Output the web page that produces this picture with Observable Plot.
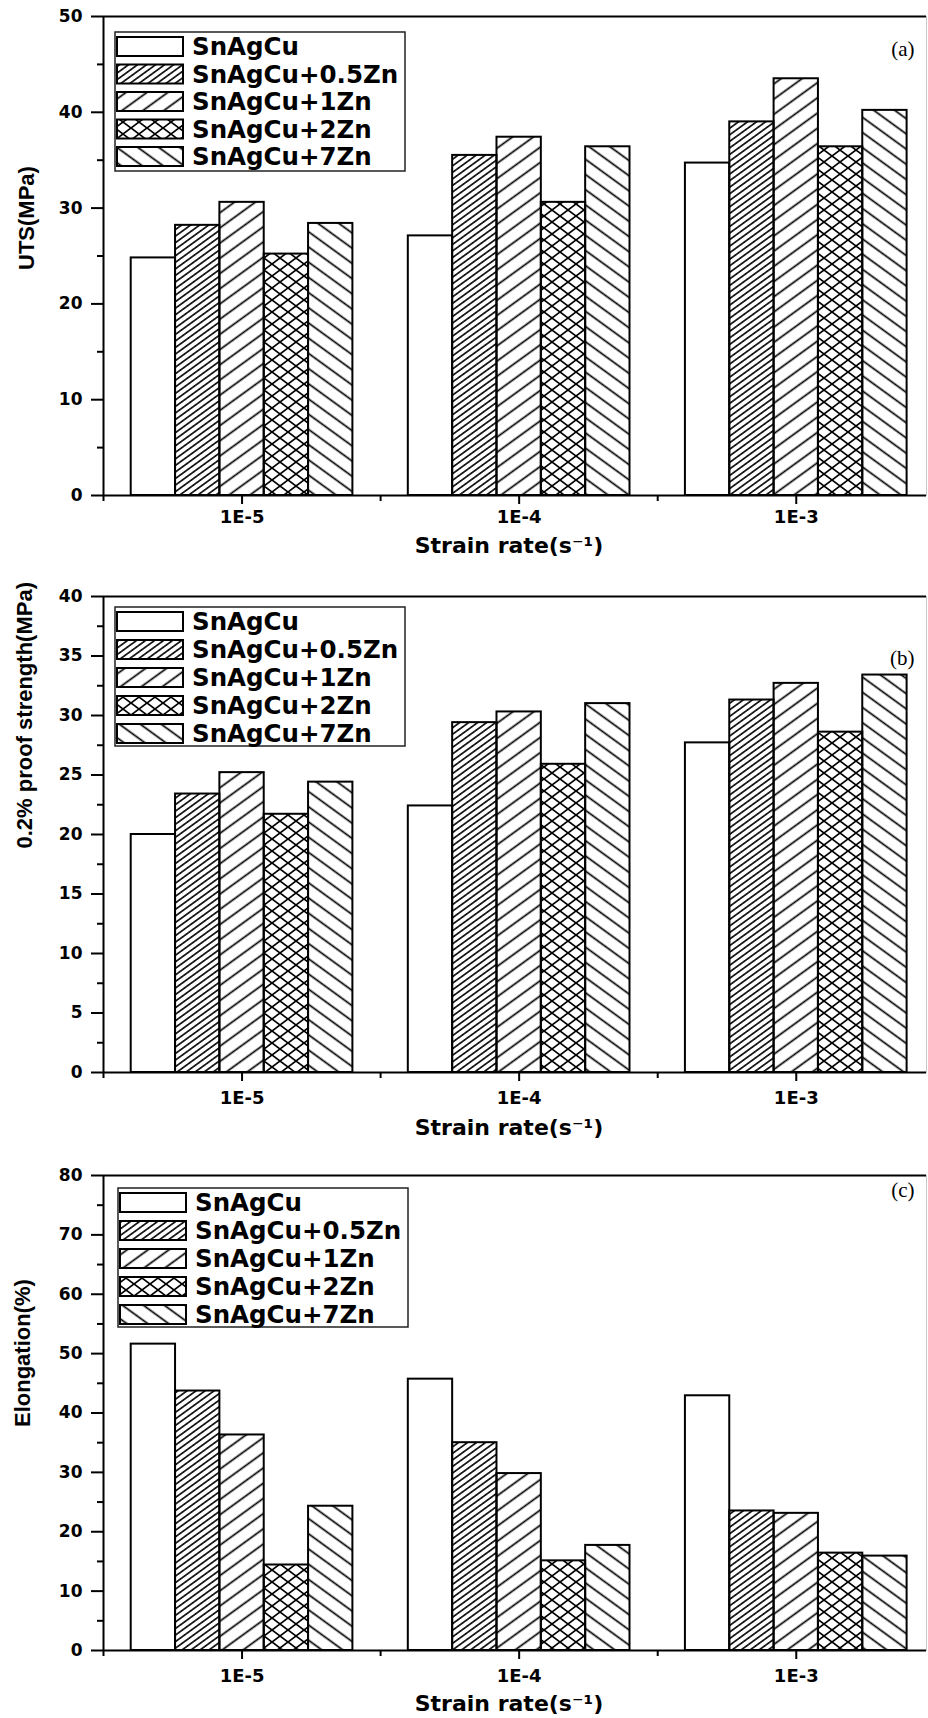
<!DOCTYPE html>
<html>
<head>
<meta charset="utf-8">
<script src="https://cdn.jsdelivr.net/npm/d3@7"></script>
<script src="https://cdn.jsdelivr.net/npm/@observablehq/plot@0.6"></script>
<style>
  html, body { margin: 0; padding: 0; background: #fff; }
  #chart svg { display: block; }
</style>
</head>
<body>
<!-- hatch fills shared by all three panels -->
<svg width="0" height="0" style="position:absolute">
  <defs>
    <pattern id="hatch-dense" patternUnits="userSpaceOnUse" width="10" height="5.3" patternTransform="rotate(-36)">
      <line x1="0" y1="2.65" x2="10" y2="2.65" stroke="#000" stroke-width="1.6"/>
    </pattern>
    <pattern id="hatch-fwd" patternUnits="userSpaceOnUse" width="10" height="12.3" patternTransform="rotate(-36)">
      <line x1="0" y1="6.15" x2="10" y2="6.15" stroke="#000" stroke-width="1.7"/>
    </pattern>
    <pattern id="hatch-back" patternUnits="userSpaceOnUse" width="10" height="12.3" patternTransform="rotate(36)">
      <line x1="0" y1="6.15" x2="10" y2="6.15" stroke="#000" stroke-width="1.7"/>
    </pattern>
    <pattern id="hatch-cross" patternUnits="userSpaceOnUse" width="16" height="12">
      <path d="M-2,13.5L18,-1.5M-2,-1.5L18,13.5" stroke="#000" stroke-width="1.7" fill="none"/>
    </pattern>
  </defs>
</svg>
<div id="chart"></div>
<script>
// Strain rates on the x axis and the five solder alloys
const rates = ["1E-5", "1E-4", "1E-3"];
const alloys = ["SnAgCu", "SnAgCu+0.5Zn", "SnAgCu+1Zn", "SnAgCu+2Zn", "SnAgCu+7Zn"];

// One row per alloy, one value per strain rate (1E-5, 1E-4, 1E-3)
const uts = [
  [24.8, 27.1, 34.7],
  [28.2, 35.5, 39.0],
  [30.6, 37.4, 43.5],
  [25.2, 30.6, 36.4],
  [28.4, 36.4, 40.2]
];
const proofStrength = [
  [20.0, 22.4, 27.7],
  [23.4, 29.4, 31.3],
  [25.2, 30.3, 32.7],
  [21.7, 25.9, 28.6],
  [24.4, 31.0, 33.4]
];
const elongation = [
  [51.6, 45.7, 42.9],
  [43.7, 35.0, 23.5],
  [36.3, 29.8, 23.1],
  [14.4, 15.1, 16.4],
  [24.3, 17.7, 15.9]
];

const fills = ["#fff", "url(#hatch-dense)", "url(#hatch-fwd)", "url(#hatch-cross)", "url(#hatch-back)"];
const xTitle = "Strain rate(s\u207B\u00B9)";
const barW = 0.16;

function rows(values) {
  return values.flatMap((vals, a) => vals.map((v, r) => ({alloy: alloys[a], a, rate: r + 1, value: v})));
}

function panel(o) {
  const majors = d3.range(0, o.ymax + o.major / 2, o.major);
  const minors = d3.range(o.major / 2, o.ymax, o.major);
  const chart = Plot.plot({
    width: 928,
    height: o.height,
    marginLeft: 103,
    marginRight: 2,
    marginTop: o.top,
    marginBottom: o.bottom,
    x: {type: "linear", domain: [0.5, 3.47]},
    y: {domain: [0, o.ymax]},
    color: {type: "ordinal", domain: alloys, range: fills},
    style: {fontFamily: "DejaVu Sans", fontWeight: "bold", fontSize: "17px", color: "#000", background: "#fff"},
    marks: [
      Plot.frame({stroke: "#c8c8c8", strokeWidth: 1}),
      Plot.rectY(rows(o.values), {
        x1: d => d.rate + (d.a - 2.5) * barW,
        x2: d => d.rate + (d.a - 1.5) * barW,
        y1: 0,
        y2: "value",
        fill: "alloy",
        stroke: "#000",
        strokeWidth: 2
      }),
      Plot.ruleY([o.ymax], {stroke: "#000", strokeWidth: 2}),
      Plot.ruleY([0], {stroke: "#000", strokeWidth: 2}),
      Plot.ruleX([0.5], {stroke: "#000", strokeWidth: 2}),
      Plot.axisY(majors, {tickSize: 12, tickPadding: 9, strokeWidth: 2, label: null, fontSize: 17}),
      Plot.axisY(minors, {tickSize: 6, tickFormat: () => "", strokeWidth: 2, label: null}),
      Plot.axisX([1, 2, 3], {tickSize: 9, tickPadding: o.xPad, strokeWidth: 2, label: null, fontSize: 18, tickFormat: d => rates[d - 1]}),
      Plot.axisX([0.5, 1.5, 2.5], {tickSize: 6, tickFormat: () => "", strokeWidth: 2, label: null}),
      Plot.text([xTitle], {text: d => d, frameAnchor: "bottom", dx: -6, dy: o.xTitleDy, fontSize: 22, lineAnchor: "middle"}),
      Plot.text([o.title], {text: d => d, frameAnchor: "left", rotate: -90, dx: o.yTitleDx, dy: 14,
        fontFamily: "Liberation Sans", fontSize: 22, lineAnchor: "middle"}),
      Plot.text([o.tag], {text: d => d, frameAnchor: "top-right", dx: -12, dy: o.tagDy, textAnchor: "end",
        lineAnchor: "middle", fontFamily: "Liberation Serif", fontWeight: "normal", fontSize: 21})
    ]
  });

  // Legend box in the upper left corner of the frame
  const svg = d3.select(chart);
  const g = svg.append("g").attr("transform", `translate(${o.legend[0]},${o.legend[1]})`);
  g.append("rect").attr("width", 290).attr("height", 139)
    .attr("fill", "none").attr("stroke", "#222").attr("stroke-width", 1.5);
  alloys.forEach((name, i) => {
    const cy = 14.5 + i * o.pitch;
    g.append("rect").attr("x", 2).attr("y", cy - 9.5).attr("width", 66).attr("height", 19)
      .attr("fill", fills[i]).attr("stroke", "#000").attr("stroke-width", 2);
    g.append("text").attr("x", 77).attr("y", cy).attr("dy", "0.36em")
      .attr("text-anchor", "start")
      .attr("font-family", "DejaVu Sans").attr("font-weight", "bold").attr("font-size", 24.5)
      .attr("fill", "#000").text(name);
  });
  return chart;
}

const root = document.getElementById("chart");
root.append(panel({
  values: uts, ymax: 50, major: 10, title: "UTS(MPa)", tag: "(a)",
  height: 575, top: 16, bottom: 80, xPad: 5.5, xTitleDy: 50, yTitleDx: -77, tagDy: 33,
  legend: [115, 32], pitch: 27.5
}));
root.append(panel({
  values: proofStrength, ymax: 40, major: 5, title: "0.2% proof strength(MPa)", tag: "(b)",
  height: 575, top: 21, bottom: 78, xPad: 9.5, xTitleDy: 55, yTitleDx: -79, tagDy: 62,
  legend: [115, 32], pitch: 28
}));
root.append(panel({
  values: elongation, ymax: 80, major: 10, title: "Elongation(%)", tag: "(c)",
  height: 568, top: 25, bottom: 68, xPad: 9.5, xTitleDy: 53, yTitleDx: -81, tagDy: 15,
  legend: [118, 38], pitch: 28
}));
</script>
</body>
</html>
